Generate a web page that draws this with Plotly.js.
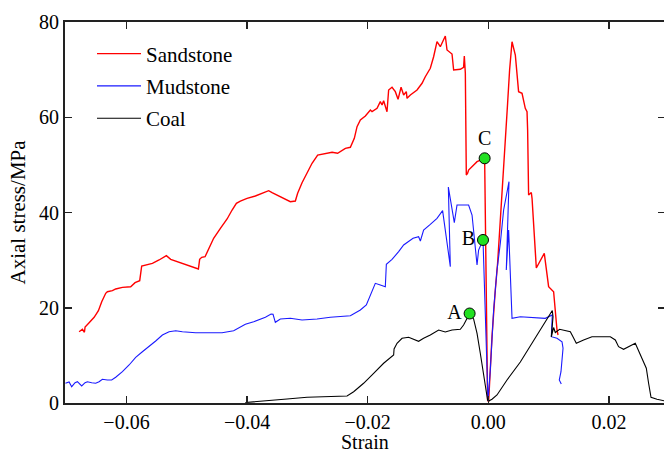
<!DOCTYPE html>
<html>
<head>
<meta charset="utf-8">
<script src="https://cdn.plot.ly/plotly-3.0.1.min.js"></script>
<style>
html,body{margin:0;padding:0;overflow:hidden;background:#fff;}
#chart{width:667px;height:452px;}
</style>
</head>
<body>
<div id="chart"></div>
<script>
// Sandstone
const sandStrain = [-0.06786,-0.06731,-0.06698,-0.06687,-0.06620,-0.06537,-0.06466,-0.06411,-0.06345,-0.06317,-0.06234,-0.06179,-0.06068,-0.05931,-0.05858,-0.05803,-0.05781,-0.05748,-0.05682,-0.05571,-0.05460,-0.05339,-0.05267,-0.05128,-0.04962,-0.04808,-0.04787,-0.04753,-0.04697,-0.04659,-0.04604,-0.04555,-0.04443,-0.04332,-0.04249,-0.04178,-0.04112,-0.04001,-0.03863,-0.03780,-0.03643,-0.03586,-0.03477,-0.03349,-0.03283,-0.03200,-0.03162,-0.03089,-0.02996,-0.02923,-0.02830,-0.02757,-0.02674,-0.02591,-0.02499,-0.02454,-0.02371,-0.02288,-0.02222,-0.02177,-0.02122,-0.02039,-0.01956,-0.01928,-0.01845,-0.01791,-0.01762,-0.01736,-0.01680,-0.01653,-0.01597,-0.01542,-0.01497,-0.01447,-0.01404,-0.01360,-0.01348,-0.01293,-0.01182,-0.01099,-0.01045,-0.00962,-0.00907,-0.00851,-0.00796,-0.00713,-0.00685,-0.00602,-0.00575,-0.00464,-0.00410,-0.00398,-0.00381,-0.00365,-0.00343,-0.00327,-0.00187,-0.00061,-0.00012,0.00005,0.00061,0.00116,0.00154,0.00199,0.00254,0.00282,0.00320,0.00353,0.00393,0.00448,0.00476,0.00502,0.00559,0.00613,0.00642,0.00652,0.00668,0.00713,0.00725,0.00763,0.00796,0.00928,0.01000,0.01083,0.01111,0.01139,0.01156];
const sandStress = [14.97,15.48,14.85,15.96,16.86,18.00,19.38,21.27,23.03,23.37,23.58,23.94,24.29,24.42,25.26,25.47,25.68,28.77,28.98,29.33,30.03,30.93,30.17,29.54,28.83,28.14,30.17,30.59,30.72,31.77,33.18,34.58,36.68,38.64,40.52,41.93,42.41,42.98,43.46,43.88,44.58,44.16,43.46,42.62,42.27,42.41,44.03,46.26,48.57,50.33,52.07,52.28,52.43,52.64,52.43,52.77,53.48,53.69,55.58,58.02,59.42,60.26,61.52,61.17,61.88,63.27,62.57,63.48,61.17,65.72,66.29,65.37,63.77,66.29,64.67,65.37,63.98,64.67,65.72,67.13,68.51,70.28,72.71,75.86,74.81,77.06,74.12,73.28,69.92,70.07,70.49,72.86,69.23,47.87,48.23,48.92,50.67,51.38,0.63,0.20,13.92,23.73,29.33,38.43,50.33,57.32,62.93,69.92,75.86,73.07,69.23,65.37,65.03,61.88,61.17,57.32,43.67,44.20,42.98,34.92,28.35,31.43,24.42,23.37,18.83,15.33,14.28];

// Mudstone
const mudStrain = [-0.07013,-0.06952,-0.06909,-0.06853,-0.06814,-0.06743,-0.06687,-0.06649,-0.06577,-0.06511,-0.06455,-0.06400,-0.06317,-0.06246,-0.06179,-0.06068,-0.05957,-0.05848,-0.05737,-0.05626,-0.05516,-0.05405,-0.05294,-0.05184,-0.05073,-0.04853,-0.04576,-0.04415,-0.04223,-0.04029,-0.03891,-0.03697,-0.03603,-0.03570,-0.03532,-0.03449,-0.03283,-0.03089,-0.02840,-0.02620,-0.02288,-0.02177,-0.02122,-0.02023,-0.01874,-0.01791,-0.01708,-0.01691,-0.01597,-0.01487,-0.01404,-0.01248,-0.01156,-0.01127,-0.01073,-0.00962,-0.00851,-0.00758,-0.00630,-0.00663,-0.00564,-0.00519,-0.00327,-0.00270,-0.00232,-0.00187,-0.00161,-0.00088,-0.00005,0.00033,0.00088,0.00144,0.00199,0.00254,0.00343,0.00298,0.00337,0.00393,0.00531,0.00807,0.00945,0.01061,0.01045,0.01139,0.01222,0.01239,0.01205,0.01177,0.01210];
const mudStress = [4.14,4.41,3.42,4.26,4.47,3.57,4.26,4.47,4.26,4.14,4.47,4.98,4.83,4.83,5.40,6.57,7.98,9.60,10.77,11.82,13.02,14.28,14.97,15.18,14.97,14.76,14.76,14.76,15.18,16.52,17.07,18.00,18.69,18.62,16.94,17.64,17.78,17.43,17.64,18.00,18.33,19.04,19.53,20.58,25.13,24.78,24.42,29.12,30.17,31.77,33.18,34.58,34.92,34.02,36.33,37.52,38.78,40.38,28.62,45.35,37.86,41.57,41.57,39.47,34.92,28.98,32.12,34.23,0.42,6.93,19.53,27.93,33.53,40.52,46.47,27.93,36.33,17.78,18.12,17.91,17.78,18.48,13.92,13.58,12.87,11.49,6.57,4.83,3.99];

// Coal
const coalStrain = [-0.04029,-0.03780,-0.03560,-0.03338,-0.03006,-0.02565,-0.02343,-0.02233,-0.02068,-0.01902,-0.01736,-0.01570,-0.01563,-0.01514,-0.01431,-0.01321,-0.01156,-0.01073,-0.00962,-0.00824,-0.00713,-0.00602,-0.00464,-0.00410,-0.00353,-0.00310,-0.00244,-0.00187,-0.00133,-0.00088,-0.00050,-0.00012,0.00005,0.00061,0.00144,0.00310,0.00531,0.00751,0.00945,0.01061,0.01073,0.01045,0.01083,0.01111,0.01182,0.01305,0.01360,0.01404,0.01459,0.01580,0.01719,0.02023,0.02106,0.02160,0.02243,0.02437,0.02520,0.02620,0.02658,0.02698,0.02797,0.02918,0.03000];
const coalStress = [0.10,0.31,0.52,0.84,1.20,1.41,1.47,2.37,4.14,6.24,8.34,10.08,11.34,12.54,13.58,13.80,12.96,13.58,14.28,15.33,14.91,15.33,15.48,16.38,17.85,18.79,17.64,14.63,10.44,6.93,3.42,0.63,0.42,0.78,1.68,4.83,8.61,13.12,17.22,19.42,18.12,13.86,15.85,14.80,15.48,15.12,14.97,13.92,12.54,13.23,13.92,13.92,13.23,11.82,11.28,12.54,10.08,7.29,4.14,1.20,0.78,0.42,0.25];

// Key points
const pointLabels = ["A","B","C"];
const pointStrain = [-0.00310,-0.00088,-0.00061];
const pointStress = [18.79,34.23,51.38];
const pointTextPos = ["middle left","middle left","top center"];

const xTickVals = [-0.06,-0.04,-0.02,0,0.02];
const yTickVals = [0,20,40,60,80];
const xTitle = "Strain";
const yTitle = "Axial stress/MPa";

const FONT = "Liberation Serif, Times New Roman, serif";

const traces = [
  {x: sandStrain, y: sandStress, mode: "lines", name: "Sandstone", legendgroup: "s",
   line: {color: "#ff0000", width: 1.4}},
  {x: mudStrain, y: mudStress, mode: "lines", name: "Mudstone", legendgroup: "m",
   line: {color: "#1a1aff", width: 1.1}},
  {x: coalStrain, y: coalStress, mode: "lines", name: "Coal", legendgroup: "c",
   line: {color: "#000000", width: 1.1}},
  {x: pointStrain, y: pointStress, mode: "markers+text", text: pointLabels,
   textposition: pointTextPos, showlegend: false, cliponaxis: false,
   textfont: {family: FONT, size: 20, color: "#000"},
   marker: {color: "#22e022", size: 11, line: {color: "#000", width: 1}}}
];

const axisCommon = {
  showgrid: false, zeroline: false, showline: true, linecolor: "#222", linewidth: 2,
  mirror: "ticks", ticks: "inside", ticklen: 7, tickwidth: 1.5, tickcolor: "#222",
  tickfont: {family: FONT, size: 20, color: "#000"}
};

const layout = {
  width: 667, height: 452,
  margin: {l: 65, r: 2, t: 22, b: 49},
  paper_bgcolor: "#fff", plot_bgcolor: "#fff",
  showlegend: true,
  legend: {x: 0.045, y: 0.97, xanchor: "left", yanchor: "top",
    font: {family: FONT, size: 21, color: "#000"}, bgcolor: "rgba(0,0,0,0)",
    tracegroupgap: 2, traceorder: "grouped", itemwidth: 44},
  xaxis: Object.assign({}, axisCommon, {
    range: [-0.0702, 0.0293], tickvals: xTickVals, tickformat: ".2f"
  }),
  yaxis: Object.assign({}, axisCommon, {
    range: [0, 80], tickvals: yTickVals,
    title: {text: yTitle, font: {family: FONT, size: 21, color: "#000"}, standoff: 8}
  }),
  annotations: [{
    text: xTitle, xref: "paper", yref: "paper", x: 0.5, y: -0.134,
    xanchor: "center", yanchor: "bottom", showarrow: false, borderpad: 0,
    font: {family: FONT, size: 20, color: "#000"}
  }]
};

Plotly.newPlot("chart", traces, layout, {displayModeBar: false, staticPlot: true});
</script>
</body>
</html>
